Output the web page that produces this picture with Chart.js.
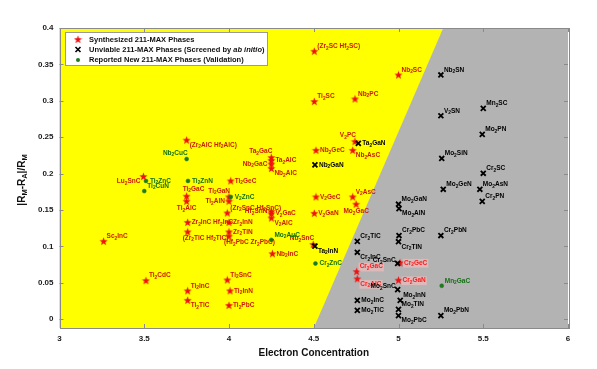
<!DOCTYPE html>
<html><head><meta charset="utf-8">
<script src="https://cdn.jsdelivr.net/npm/chart.js@4/dist/chart.umd.min.js"></script>
<style>html,body{margin:0;padding:0;background:#fff;}</style>
</head><body>
<canvas id="c" width="597" height="369"></canvas>
<script>
// ---------- DATA ----------
const synthNames = ["Sc2InC","Ti2CdC","Ti2InC","Ti2TlC","Ti2SnC","Ti2InN","Ti2PbC","Nb2InC",
  "(Zr2AlC Hf2AlC)","Lu2SnC","Ti2GaC","Ti2AlC","Ti2GeC","Ti2GaN","Ti2AlN","(Zr2SnC Hf2SnC)",
  "Hf2SnN","V2GaC","V2AlC","Zr2InN","Zr2InC Hf2InC","(Zr2TlC Hf2TlC)","Zr2TlN","(Hf2PbC Zr2PbC)",
  "Ta2GaC","Ta2AlC","Nb2GaC","Nb2AlC","(Zr2SC Hf2SC)","Nb2SC","Ti2SC","Nb2PC","V2PC","Nb2GeC",
  "Nb2AsC","V2GeC","V2AsC","Mo2GaC","V2GaN","Nb2SnC","Cr2GeC","Cr2GaC","Cr2AlC","Cr2GaN"];
const synthX = [3.26,3.51,3.756,3.756,3.99,4.006,4.0,4.256,
  3.75,3.495,3.75,3.75,4.01,4.0,4.0,3.99,
  4.25,4.25,4.25,4.0,3.756,3.756,4.0,4.0,
  4.25,4.25,4.25,4.25,4.503,5.0,4.503,4.743,4.743,4.513,
  4.73,4.513,4.73,4.75,4.503,4.497,5.009,4.753,4.757,5.0];
const synthY = [0.107,0.053,0.039,0.026,0.054,0.039,0.019,0.090,
  0.246,0.196,0.169,0.162,0.190,0.168,0.162,0.146,
  0.148,0.145,0.139,0.133,0.133,0.120,0.120,0.114,
  0.222,0.218,0.213,0.207,0.368,0.3355,0.299,0.3025,0.244,0.232,
  0.232,0.168,0.168,0.158,0.1455,0.1027,0.0775,0.0655,0.0555,0.0536];
const synthPos = ["ur","ur","ur","dr","ur","r","r","r",
  "dr","dl","u","dc","r","ul","l","ur",
  "l","r","dr","r","r","d","r","d",
  "ul","r","l","dr","ur","ur","ur","ur","ul","r",
  "dr","r","ur","dc","r","ul","r","ur","dr","r"];

const unviableNames = ["Nb2GaN","Ta2GaN","Ta2InN","Nb2SN","Mn2SC","V2SN","Mo2PN","Mo2SiN","Cr2SC",
  "Mo2GeN","Mo2AsN","Cr2PN","Mo2GaN","Mo2AlN","Cr2PbC","Cr2PbN","Cr2TlC","Cr2TlN","Cr2InC",
  "Cr2SnC","Mo2SnC","Mo2InC","Mo2TlC","Mo2InN","Mo2TlN","Mo2PbC","Mo2PbN"];
const unviableX = [4.507,4.763,4.507,5.25,5.5,5.25,5.494,5.255,5.5,
  5.264,5.48,5.494,5.0,5.003,5.003,5.25,4.757,5.0,4.757,
  4.995,4.995,4.757,4.757,5.01,5.0,5.0,5.25];
const unviableY = [0.212,0.2415,0.1005,0.3355,0.2897,0.2795,0.254,0.2208,0.2005,
  0.1785,0.1785,0.162,0.158,0.152,0.115,0.115,0.107,0.1065,0.092,
  0.0766,0.0408,0.026,0.0122,0.026,0.0135,0.005,0.005];
const unviablePos = ["r","r","dr","ur","ur","ur","ur","ur","ur",
  "ur","ur","ur","ur","dr","ur","ur","ur","dr","dr",
  "lu","lu","r","r","ur","ur","dr","ur"];

const validNames = ["Nb2CuC","Ti2ZnC","Ti2CuN","Ti2ZnN","V2ZnC","Mo2AuC","Cr2ZnC","Mn2GaC"];
const validX = [3.75,3.51,3.50,3.758,4.01,4.25,4.51,5.255];
const validY = [0.22,0.19,0.176,0.19,0.168,0.109,0.0766,0.046];
const validPos = ["ul","r","ur","r","r","ur","r","ur"];

// region boundary (yellow | gray)
const boundaryX = [4.5, 5.264];
const boundaryY = [-0.012, 0.4];

const xTicks = [3,3.5,4,4.5,5,5.5,6];
const yTicks = [0,0.05,0.1,0.15,0.2,0.25,0.3,0.35,0.4];
const highlightNames = ["Cr2GeC","Cr2GaC","Cr2AlC","Cr2GaN"];

// ---------- STYLE HELPERS ----------
const FAM = '"Liberation Sans", Arial, sans-serif';
function makeStar(size, color){
  const c=document.createElement('canvas'); c.width=c.height=size;
  const g=c.getContext('2d'); const cx=size/2, cy=size/2+0.3, R=size/2-0.2, r=R*0.42;
  g.beginPath();
  for(let i=0;i<10;i++){const a=-Math.PI/2+i*Math.PI/5; const rr=i%2?r:R; g.lineTo(cx+rr*Math.cos(a), cy+rr*Math.sin(a));}
  g.closePath(); g.fillStyle=color; g.fill(); return c;
}
const starImg = makeStar(9,'#ee1111');

function segs(t){
  const out=[]; let cur='';
  for(let i=0;i<t.length;i++){
    const ch=t[i];
    if(ch==='2' && i>0 && /[A-Za-z]/.test(t[i-1])){ if(cur) out.push([cur,false]); out.push(['2',true]); cur=''; }
    else cur+=ch;
  }
  if(cur) out.push([cur,false]);
  return out;
}
function drawRich(ctx, parts, x, y, align, size, color, bg){
  const fN=`bold ${size}px ${FAM}`, fS=`bold ${size*0.75}px ${FAM}`;
  let w=0; for(const [s,sub] of parts){ctx.font=sub?fS:fN; w+=ctx.measureText(s).width;}
  let sx = align==='left'?x: align==='right'? x-w : x-w/2;
  if(bg){ctx.fillStyle=bg; ctx.fillRect(sx-1,y-size*0.6,w+2,size*1.35);}
  ctx.textBaseline='middle'; ctx.textAlign='left'; ctx.fillStyle=color;
  for(const [s,sub] of parts){ctx.font=sub?fS:fN; ctx.fillText(s,sx, sub? y+size*0.3 : y); sx+=ctx.measureText(s).width;}
}
const OFF = {
  r:{dx:4,dy:0,a:'left'}, ur:{dx:3,dy:-5,a:'left'}, dr:{dx:3,dy:5,a:'left'},
  l:{dx:-4,dy:0,a:'right'}, ul:{dx:1,dy:-6,a:'right'}, dl:{dx:-3,dy:5,a:'right'},
  u:{dx:-4,dy:-7,a:'left'}, d:{dx:-5,dy:6,a:'left'}, dc:{dx:0,dy:7,a:'center'},
  lu:{dx:-2,dy:-3,a:'right'}
};

const pts = (xs,ys)=>xs.map((x,i)=>({x:x,y:ys[i]}));

const bgPlugin = {
  id:'bg',
  beforeDatasetsDraw(chart){
    const {ctx, chartArea:a, scales:{x,y}} = chart;
    ctx.save();
    ctx.fillStyle='#b3b3b3'; ctx.fillRect(a.left,a.top,a.right-a.left,a.bottom-a.top);
    ctx.beginPath();
    ctx.moveTo(a.left,a.bottom); ctx.lineTo(a.left,a.top);
    ctx.lineTo(x.getPixelForValue(boundaryX[1]), y.getPixelForValue(boundaryY[1]));
    ctx.lineTo(x.getPixelForValue(boundaryX[0]), y.getPixelForValue(boundaryY[0]));
    ctx.closePath(); ctx.fillStyle='#ffff00'; ctx.fill();
    ctx.restore();
  }
};

const decoPlugin = {
  id:'deco',
  afterDatasetsDraw(chart){
    const {ctx, chartArea:a, scales:{x,y}} = chart;
    ctx.save();
    const groups = [
      {names:synthNames,pos:synthPos,color:'#cc1a00',ds:0},
      {names:unviableNames,pos:unviablePos,color:'#000000',ds:1},
      {names:validNames,pos:validPos,color:'#137013',ds:2}
    ];
    for(const g of groups){
      const meta = chart.getDatasetMeta(g.ds);
      g.names.forEach((n,i)=>{
        const el = meta.data[i]; const o = OFF[g.pos[i]];
        const hl = highlightNames.includes(n);
        drawRich(ctx, segs(n), el.x+o.dx, el.y+o.dy, o.a, 6.5, hl?'#ff1a1a':g.color, hl?'rgba(255,190,190,0.55)':null);
      });
    }
    ctx.strokeStyle='#8a8a8a'; ctx.lineWidth=1;
    ctx.strokeRect(Math.round(a.left)+0.5, Math.round(a.top)+0.5, Math.round(a.right-a.left), Math.round(a.bottom-a.top));
    ctx.beginPath();
    xTicks.forEach(v=>{const px=Math.round(x.getPixelForValue(v))+0.5; ctx.moveTo(px,a.bottom); ctx.lineTo(px,a.bottom-4); ctx.moveTo(px,a.top); ctx.lineTo(px,a.top+4);});
    yTicks.forEach(v=>{const py=Math.round(y.getPixelForValue(v))+0.5; ctx.moveTo(a.left,py); ctx.lineTo(a.left+4,py); ctx.moveTo(a.right,py); ctx.lineTo(a.right-4,py);});
    ctx.stroke();
    // legend
    const lx=65, ly=32, lw=202, lh=33;
    ctx.fillStyle='#fff'; ctx.fillRect(lx,ly,lw,lh);
    ctx.strokeStyle='#9a9a9a'; ctx.strokeRect(lx+0.5,ly+0.5,lw,lh);
    const rows=[39.5,49.5,60];
    ctx.drawImage(starImg, 78-4.5, rows[0]-4.5);
    ctx.strokeStyle='#000'; ctx.lineWidth=1.6; ctx.beginPath();
    ctx.moveTo(75.5,rows[1]-2.5); ctx.lineTo(80.5,rows[1]+2.5); ctx.moveTo(80.5,rows[1]-2.5); ctx.lineTo(75.5,rows[1]+2.5); ctx.stroke();
    ctx.fillStyle='#1f7a1f'; ctx.beginPath(); ctx.arc(78,rows[2],2,0,Math.PI*2); ctx.fill();
    ctx.fillStyle='#111'; ctx.textBaseline='middle'; ctx.textAlign='left';
    const fb=`bold 7.5px ${FAM}`, fi=`italic bold 7.5px ${FAM}`;
    ctx.font=fb; ctx.fillText('Synthesized 211-MAX Phases',89,rows[0]);
    let sx=89; const p1='Unviable 211-MAX Phases (Screened by ';
    ctx.fillText(p1,sx,rows[1]); sx+=ctx.measureText(p1).width;
    ctx.font=fi; ctx.fillText('ab initio',sx,rows[1]); sx+=ctx.measureText('ab initio').width;
    ctx.font=fb; ctx.fillText(')',sx,rows[1]);
    ctx.fillText('Reported New 211-MAX Phases (Validation)',89,rows[2]);
    // axis titles
    ctx.fillStyle='#111';
    ctx.font=`bold 10px ${FAM}`; ctx.textAlign='center';
    ctx.fillText('Electron Concentration',(a.left+a.right)/2,353);
    ctx.save(); ctx.translate(22,(a.top+a.bottom)/2+2); ctx.rotate(-Math.PI/2);
    const tparts=[['|R',false],['M',true],['-R',false],['A',true],['|/R',false],['M',true]];
    drawRich(ctx,tparts,0,0,'center',10,'#111');
    ctx.restore();
    ctx.restore();
  }
};

new Chart(document.getElementById('c'), {
  type:'scatter',
  data:{datasets:[
    {label:'Synthesized 211-MAX Phases', data:pts(synthX,synthY), pointStyle:starImg, order:3},
    {label:'Unviable 211-MAX Phases', data:pts(unviableX,unviableY), pointStyle:'crossRot', pointRadius:3.5, borderColor:'#000', borderWidth:1.8, order:2},
    {label:'Reported New 211-MAX Phases', data:pts(validX,validY), pointStyle:'circle', pointRadius:2, backgroundColor:'#1f7a1f', borderColor:'#1f7a1f', borderWidth:0.5, order:1}
  ]},
  options:{
    responsive:false, animation:false,
    layout:{padding:{left:0,right:29,top:28,bottom:0}},
    plugins:{legend:{display:false}, tooltip:{enabled:false}},
    scales:{
      x:{type:'linear', min:3, max:6,
        afterBuildTicks:s=>{s.ticks=xTicks.map(v=>({value:v}));},
        afterFit:s=>{s.height=41;},
        grid:{display:false, drawTicks:false}, border:{display:false},
        ticks:{font:{family:FAM,size:8,weight:'bold'}, color:'#1a1a1a', padding:6, maxRotation:0, callback:v=>String(v)}},
      y:{type:'linear', min:boundaryY[0], max:0.4,
        afterBuildTicks:s=>{s.ticks=yTicks.map(v=>({value:v}));},
        afterFit:s=>{s.width=59.5;},
        grid:{display:false, drawTicks:false}, border:{display:false},
        ticks:{font:{family:FAM,size:8,weight:'bold'}, color:'#1a1a1a', padding:6, callback:v=>String(v)}}
    }
  },
  plugins:[bgPlugin, decoPlugin]
});
</script>
</body></html>
